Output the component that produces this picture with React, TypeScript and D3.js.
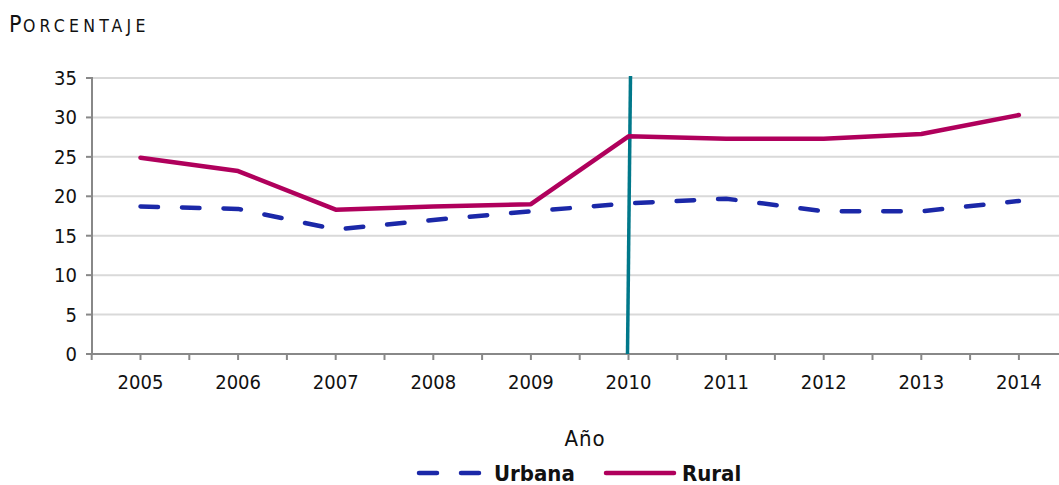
import React from "react";
import * as d3 from "d3";

const years = ["2005", "2006", "2007", "2008", "2009", "2010", "2011", "2012", "2013", "2014"];
const urbana = [18.7, 18.4, 15.8, 17.0, 18.1, 19.1, 19.7, 18.1, 18.1, 19.4];
const rural = [24.9, 23.2, 18.3, 18.7, 19.0, 27.6, 27.3, 27.3, 27.9, 30.3];
const yTicks = [0, 5, 10, 15, 20, 25, 30, 35];
const markerYear = "2010";

const W = 1059, H = 485;
const FONT = "'DejaVu Sans Condensed', 'DejaVu Sans', sans-serif";
const C_URB = "#1b28a8";
const C_RUR = "#b0005c";

export default function App() {
  const x = d3.scaleBand().domain(years).range([91.7, 1067.7]);
  const y = d3.scaleLinear().domain([0, 35]).range([354, 78]);
  const cx = (yr: string) => (x(yr) as number) + x.bandwidth() / 2;
  const line = d3.line<number>().x((_, i) => cx(years[i])).y((v) => y(v));
  const halfTicks: number[] = [];
  years.forEach((yr) => {
    halfTicks.push(x(yr) as number);
    halfTicks.push(cx(yr));
  });
  const mx = cx(markerYear);
  return (
    <svg width={W} height={H} style={{ position: "absolute", left: 0, top: 0 }}>
      <rect width={W} height={H} fill="#fff" />
      <text x={9} y={32} fontFamily={FONT} fill="#111">
        <tspan fontSize={23}>P</tspan>
        <tspan fontSize={17.5} letterSpacing={4.2} dx={1.5}>ORCENTAJE</tspan>
      </text>
      {yTicks.map((t) => (
        <g key={t}>
          {t > 0 && <line x1={92} x2={W} y1={y(t)} y2={y(t)} stroke="#d9d9d9" strokeWidth={2} />}
          <line x1={86} x2={92} y1={y(t)} y2={y(t)} stroke="#888" strokeWidth={2} />
          <text x={77} y={y(t) + 7} textAnchor="end" fontFamily={FONT} fontSize={20} fill="#111">
            {t}
          </text>
        </g>
      ))}
      <line x1={92} x2={92} y1={77} y2={355} stroke="#888" strokeWidth={2} />
      <line x1={91} x2={W} y1={354} y2={354} stroke="#888" strokeWidth={2} />
      {halfTicks.map((t, i) => (
        <line key={i} x1={t} x2={t} y1={354} y2={360} stroke="#888" strokeWidth={2} />
      ))}
      {years.map((yr) => (
        <text key={yr} x={cx(yr)} y={389} textAnchor="middle" fontFamily={FONT} fontSize={20} fill="#111">
          {yr}
        </text>
      ))}
      <line x1={mx + 2} x2={mx - 1} y1={76} y2={354} stroke="#00788a" strokeWidth={3.5} />
      <path d={line(rural) || ""} fill="none" stroke={C_RUR} strokeWidth={4.5} strokeLinecap="round" strokeLinejoin="round" />
      <path d={line(urbana) || ""} fill="none" stroke={C_URB} strokeWidth={4.5} strokeLinecap="round" strokeLinejoin="round" strokeDasharray="17.5,24" />
      <text x={585} y={446} textAnchor="middle" fontFamily={FONT} fontSize={22} fill="#111" letterSpacing={1}>
        Año
      </text>
      <line x1={419} x2={479} y1={473} y2={473} stroke={C_URB} strokeWidth={4.5} strokeLinecap="round" strokeDasharray="18,24" />
      <text x={494} y={481} fontFamily={FONT} fontSize={22} fontWeight="bold" fill="#111">Urbana</text>
      <line x1={606} x2={674} y1={473} y2={473} stroke={C_RUR} strokeWidth={4.5} strokeLinecap="round" />
      <text x={682} y={481} fontFamily={FONT} fontSize={22} fontWeight="bold" fill="#111">Rural</text>
    </svg>
  );
}
